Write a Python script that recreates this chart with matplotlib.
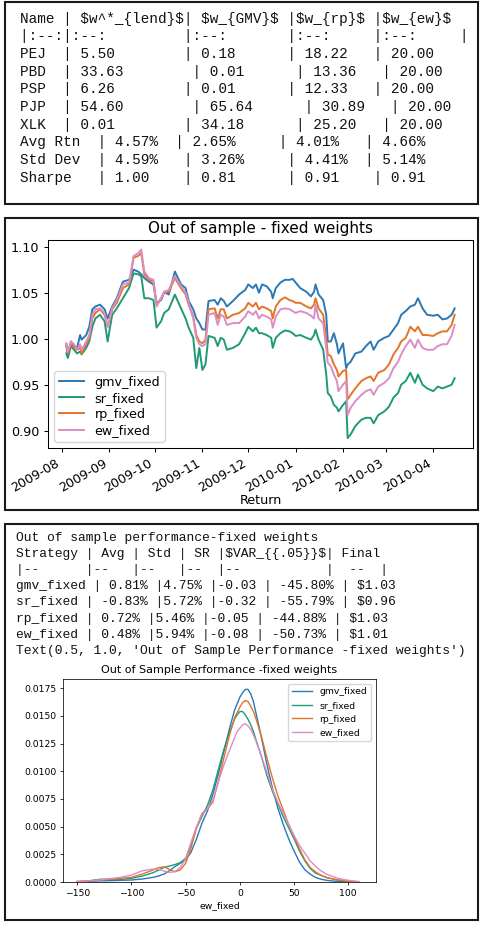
import matplotlib
matplotlib.use("Agg")
import matplotlib.pyplot as plt
import matplotlib.dates as mdates
from matplotlib.patches import Rectangle
from matplotlib.ticker import MultipleLocator, FormatStrFormatter
import pandas as pd

# ---- weights table (top panel) ----
ASSETS = ["PEJ", "PBD", "PSP", "PJP", "XLK"]
W_LEND = [5.50, 33.63, 6.26, 54.60, 0.01]
W_GMV = [0.18, 0.01, 0.01, 65.64, 34.18]
W_RP = [18.22, 13.36, 12.33, 30.89, 25.20]
W_EW = [20.00, 20.00, 20.00, 20.00, 20.00]
AVG_RTN = [4.57, 2.65, 4.01, 4.66]
STD_DEV = [4.59, 3.26, 4.41, 5.14]
SHARPE = [1.00, 0.81, 0.91, 0.91]

# ---- performance table (bottom panel) ----
STRATS = ["gmv_fixed", "sr_fixed", "rp_fixed", "ew_fixed"]
PERF_AVG = [0.81, -0.83, 0.72, 0.48]
PERF_STD = [4.75, 5.72, 5.46, 5.94]
PERF_SR = [-0.03, -0.32, -0.05, -0.08]
PERF_VAR = [-45.80, -55.79, -44.88, -50.73]
PERF_FINAL = [1.03, 0.96, 1.03, 1.01]

# ---- cumulative value, fixed weights ----
DATES = [
    "2009-08-04", "2009-08-05", "2009-08-07", "2009-08-09", "2009-08-11", "2009-08-13", "2009-08-14",
    "2009-08-17", "2009-08-19", "2009-08-21", "2009-08-23", "2009-08-26", "2009-08-29", "2009-08-31",
    "2009-09-03", "2009-09-06", "2009-09-10", "2009-09-14", "2009-09-17", "2009-09-20", "2009-09-22",
    "2009-09-24", "2009-09-27", "2009-09-30", "2009-10-02", "2009-10-05", "2009-10-07", "2009-10-10",
    "2009-10-14", "2009-10-18", "2009-10-21", "2009-10-23", "2009-10-26", "2009-10-28", "2009-10-30",
    "2009-11-01", "2009-11-03", "2009-11-05", "2009-11-09", "2009-11-11", "2009-11-13", "2009-11-15",
    "2009-11-17", "2009-11-21", "2009-11-25", "2009-11-29", "2009-12-01", "2009-12-04", "2009-12-06",
    "2009-12-08",
    "2009-12-10", "2009-12-13", "2009-12-16", "2009-12-17", "2009-12-19", "2009-12-22", "2009-12-25",
    "2009-12-28", "2009-12-30", "2010-01-01", "2010-01-04", "2010-01-08", "2010-01-11", "2010-01-13",
    "2010-01-14", "2010-01-16", "2010-01-19", "2010-01-21", "2010-01-22", "2010-01-24", "2010-01-26",
    "2010-01-28", "2010-01-29", "2010-02-01", "2010-02-03", "2010-02-04", "2010-02-06", "2010-02-09",
    "2010-02-13", "2010-02-16", "2010-02-19", "2010-02-21", "2010-02-24", "2010-02-28", "2010-03-03",
    "2010-03-06", "2010-03-09", "2010-03-11", "2010-03-14", "2010-03-17", "2010-03-20", "2010-03-22",
    "2010-03-25", "2010-03-28", "2010-04-01", "2010-04-04", "2010-04-07", "2010-04-10", "2010-04-13",
    "2010-04-15",
]
GMV_FIXED = [
    0.994, 0.981, 0.997, 0.992, 0.990, 1.004, 0.999, 1.004, 1.013, 1.032, 1.035, 1.037, 1.032, 1.022,
    1.035, 1.044, 1.062, 1.064, 1.075, 1.073, 1.070, 1.066, 1.062, 1.059, 1.039, 1.042, 1.051, 1.048,
    1.073, 1.059, 1.055, 1.041, 1.032, 1.022, 1.017, 1.010, 1.010, 1.041, 1.042, 1.037, 1.044, 1.041,
    1.035, 1.041, 1.048, 1.053, 1.059, 1.055, 1.059, 1.050,
    1.059, 1.057, 1.051, 1.044, 1.055, 1.061, 1.064, 1.064, 1.065, 1.061, 1.055, 1.051, 1.046, 1.051,
    1.059, 1.048, 1.042, 1.026, 0.997, 0.997, 1.006, 0.994, 0.984, 0.995, 0.968, 0.972, 0.975, 0.984,
    0.986, 0.992, 0.997, 0.988, 0.997, 1.001, 1.003, 1.010, 1.017, 1.026, 1.030, 1.035, 1.037, 1.044,
    1.033, 1.026, 1.025, 1.026, 1.021, 1.022, 1.026, 1.033,
]
SR_FIXED = [
    0.984, 0.979, 0.992, 0.988, 0.984, 0.986, 0.983, 0.990, 0.997, 1.013, 1.022, 1.026, 1.019, 0.997,
    1.026, 1.033, 1.044, 1.055, 1.071, 1.070, 1.068, 1.044, 1.044, 1.042, 1.012, 1.019, 1.028, 1.032,
    1.048, 1.033, 1.022, 1.012, 1.001, 0.968, 0.990, 0.966, 0.972, 1.003, 1.001, 0.992, 1.001, 0.999,
    0.988, 0.990, 0.994, 1.006, 1.013, 1.008, 1.012, 1.006,
    1.006, 1.004, 1.001, 0.990, 1.001, 1.006, 1.009, 1.008, 1.006, 1.003, 1.004, 1.001, 0.999, 1.004,
    1.010, 0.999, 0.988, 0.961, 0.941, 0.937, 0.928, 0.925, 0.921, 0.928, 0.932, 0.892, 0.896, 0.905,
    0.912, 0.914, 0.914, 0.908, 0.917, 0.921, 0.926, 0.936, 0.941, 0.950, 0.954, 0.963, 0.952, 0.961,
    0.950, 0.946, 0.943, 0.948, 0.946, 0.948, 0.950, 0.957,
]
RP_FIXED = [
    0.992, 0.984, 0.995, 0.990, 0.988, 0.990, 0.984, 0.994, 1.001, 1.022, 1.028, 1.032, 1.026, 1.013,
    1.032, 1.039, 1.055, 1.059, 1.088, 1.090, 1.093, 1.070, 1.064, 1.062, 1.037, 1.044, 1.050, 1.051,
    1.066, 1.055, 1.048, 1.037, 1.024, 1.004, 0.997, 0.995, 0.999, 1.032, 1.033, 1.022, 1.032, 1.032,
    1.022, 1.026, 1.028, 1.033, 1.039, 1.035, 1.039, 1.032,
    1.035, 1.033, 1.030, 1.022, 1.035, 1.042, 1.045, 1.042, 1.041, 1.039, 1.039, 1.035, 1.033, 1.037,
    1.044, 1.033, 1.026, 1.001, 0.983, 0.981, 0.972, 0.966, 0.959, 0.965, 0.966, 0.934, 0.939, 0.946,
    0.954, 0.957, 0.959, 0.954, 0.963, 0.966, 0.972, 0.983, 0.990, 0.997, 1.001, 1.013, 1.008, 1.013,
    1.004, 1.004, 1.003, 1.006, 1.008, 1.008, 1.015, 1.026,
]
EW_FIXED = [
    0.995, 0.986, 0.997, 0.994, 0.988, 0.994, 0.988, 0.997, 1.004, 1.026, 1.032, 1.033, 1.028, 1.013,
    1.033, 1.042, 1.059, 1.061, 1.090, 1.093, 1.097, 1.073, 1.066, 1.064, 1.035, 1.044, 1.051, 1.053,
    1.068, 1.057, 1.050, 1.039, 1.022, 1.001, 0.994, 0.992, 0.994, 1.026, 1.028, 1.015, 1.026, 1.024,
    1.015, 1.017, 1.017, 1.024, 1.030, 1.026, 1.030, 1.022,
    1.026, 1.024, 1.021, 1.012, 1.024, 1.032, 1.033, 1.032, 1.030, 1.028, 1.030, 1.028, 1.025, 1.022,
    1.037, 1.022, 1.017, 0.990, 0.974, 0.970, 0.961, 0.954, 0.943, 0.950, 0.954, 0.917, 0.925, 0.932,
    0.939, 0.943, 0.945, 0.939, 0.948, 0.952, 0.957, 0.968, 0.975, 0.983, 0.992, 0.999, 0.990, 0.999,
    0.990, 0.988, 0.988, 0.992, 0.994, 0.994, 1.003, 1.015,
]

# ---- return densities ----
KDE_X = [-150, -140, -130, -120, -110, -100, -90, -80,
         -75, -70, -65, -60, -55, -50, -45, -40, -35, -30, -25, -20, -15, -10, -5,
         -2.5, 0, 2.5, 5, 7.5, 10, 12.5, 15,
         20, 25, 30, 35, 40, 45, 50, 55, 60, 65, 70, 75, 80,
         90, 100, 110]
KDE_GMV = [0.00003, 0.00005, 0.0001, 0.00012, 0.00015, 0.00018, 0.00027, 0.00042,
           0.00054, 0.00072, 0.00102, 0.00138, 0.00169, 0.0020, 0.0027, 0.0039, 0.0053, 0.0064,
           0.0079, 0.0097, 0.0117, 0.0137, 0.0155,
           0.0161, 0.0167, 0.0171, 0.0174, 0.0174, 0.0170, 0.0163, 0.0152,
           0.0130, 0.0106, 0.0085, 0.0067, 0.0052, 0.0039, 0.0028, 0.0018, 0.0011, 0.0007, 0.0004,
           0.00025, 0.00015,
           0.00005, 0.00002, 0.0]
KDE_SR = [0.00002, 0.00008, 0.00024, 0.00027, 0.00024, 0.00033, 0.00054, 0.00084,
          0.00108, 0.00132, 0.00144, 0.00157, 0.00175, 0.00214, 0.0034, 0.0049, 0.0059, 0.0069,
          0.0083, 0.0101, 0.0119, 0.0134, 0.0147,
          0.0151, 0.0154, 0.0154, 0.0151, 0.0147, 0.0142, 0.0136, 0.0128,
          0.0113, 0.0096, 0.0082, 0.0071, 0.0059, 0.0049, 0.0039, 0.0028, 0.0019, 0.0012, 0.0008,
          0.0006, 0.0004,
          0.00018, 0.00006, 0.00001]
KDE_RP = [0.00005, 0.0001, 0.00018, 0.00024, 0.00033, 0.00042, 0.00072, 0.00108,
          0.0013, 0.00136, 0.00114, 0.00093, 0.00108, 0.0017, 0.0031, 0.0049, 0.0062, 0.0066,
          0.0072, 0.0090, 0.0111, 0.0131, 0.0148,
          0.0153, 0.0158, 0.0162, 0.0164, 0.0163, 0.0159, 0.0154, 0.0147,
          0.0131, 0.0112, 0.0094, 0.0078, 0.0065, 0.0052, 0.0041, 0.0030, 0.0020, 0.0013, 0.0009,
          0.0006, 0.0004,
          0.0002, 0.00007, 0.00001]
KDE_EW = [0.00004, 0.0001, 0.00018, 0.0003, 0.00042, 0.00063, 0.00102, 0.00117,
          0.00114, 0.00099, 0.00087, 0.00093, 0.00132, 0.0021, 0.0036, 0.0050, 0.0061, 0.0066,
          0.0074, 0.0090, 0.0105, 0.0118, 0.0130,
          0.0136, 0.0139, 0.0142, 0.0143, 0.0141, 0.0138, 0.0133, 0.0127,
          0.0113, 0.0099, 0.0084, 0.0072, 0.0062, 0.0052, 0.0042, 0.0033, 0.0026, 0.0019, 0.0014,
          0.0010, 0.0007,
          0.00035, 0.00015, 0.00004]

COLORS = ["#2a78b5", "#1f9a76", "#e3742a", "#dc8cc6"]
MONO = "Liberation Mono"

W, H = 482, 925
fig = plt.figure(figsize=(W / 100, H / 100), dpi=100)


def fx(px):
    return px / W


def fy(py):
    return 1 - py / H


# panel frames
for x0, y0, x1, y1 in [(5, 2, 478, 204), (5, 218, 478, 510), (5, 524, 478, 920)]:
    fig.add_artist(Rectangle((fx(x0), fy(y1)), fx(x1) - fx(x0), fy(y0) - fy(y1),
                             transform=fig.transFigure, fill=False, lw=1.5, ec="#1a1a1a"))

# top panel: printed markdown table
top_lines = ["Name | $w^*_{lend}$| $w_{GMV}$ |$w_{rp}$ |$w_{ew}$",
             "|:--:|:--:         |:--:       |:--:     |:--:     |"]
for i, name in enumerate(ASSETS):
    top_lines.append(f"{name}  | {W_LEND[i]:.2f}        | {W_GMV[i]:.2f}      "
                     f"| {W_RP[i]:.2f}   | {W_EW[i]:.2f}")
top_lines.append(f"Avg Rtn  | {AVG_RTN[0]:.2f}%  | {AVG_RTN[1]:.2f}%     "
                 f"| {AVG_RTN[2]:.2f}%   | {AVG_RTN[3]:.2f}%")
top_lines.append(f"Std Dev  | {STD_DEV[0]:.2f}%   | {STD_DEV[1]:.2f}%     "
                 f"| {STD_DEV[2]:.2f}%  | {STD_DEV[3]:.2f}%")
top_lines.append(f"Sharpe   | {SHARPE[0]:.2f}    | {SHARPE[1]:.2f}      "
                 f"| {SHARPE[2]:.2f}    | {SHARPE[3]:.2f}")

for i, line in enumerate(top_lines):
    yc = 18.0 + 17.7 * i
    fig.text(fx(20.5), fy(yc + 4.5), line, family=MONO, fontsize=10.35,
             va="baseline", ha="left", color="#111111", parse_math=False)

# bottom panel: printed performance table
bottom_lines = ["Out of sample performance-fixed weights",
                "Strategy | Avg | Std | SR |$VAR_{{.05}}$| Final",
                "|--      |--   |--   |--  |--           |  --  |"]
for i, s in enumerate(STRATS):
    bottom_lines.append(f"{s} | {PERF_AVG[i]:.2f}% |{PERF_STD[i]:.2f}% |{PERF_SR[i]:.2f} "
                        f"| {PERF_VAR[i]:.2f}% | ${PERF_FINAL[i]:.2f}")
bottom_lines.append("Text(0.5, 1.0, 'Out of Sample Performance -fixed weights')")

for i, line in enumerate(bottom_lines):
    yc = 536.5 + 16.2 * i
    fig.text(fx(16.5), fy(yc + 4.2), line, family=MONO, fontsize=9.4,
             va="baseline", ha="left", color="#111111", parse_math=False)

# middle panel: out of sample values
ax1 = fig.add_axes([fx(48), fy(448), fx(473) - fx(48), fy(240) - fy(448)])
dates = pd.to_datetime(DATES)
series = [GMV_FIXED, SR_FIXED, RP_FIXED, EW_FIXED]
for name, vals, c in zip(STRATS, series, COLORS):
    ax1.plot(dates, vals, color=c, lw=1.4, label=name)
ax1.set_xlim(pd.Timestamp("2009-07-23"), pd.Timestamp("2010-04-27"))
ax1.set_ylim(0.8812, 1.1073)
ax1.yaxis.set_major_locator(MultipleLocator(0.05))
ax1.yaxis.set_major_formatter(FormatStrFormatter("%.2f"))
ax1.xaxis.set_major_locator(mdates.MonthLocator())
ax1.xaxis.set_major_formatter(mdates.DateFormatter("%Y-%m"))
ax1.tick_params(labelsize=9.2, length=3.2, width=0.75, pad=3)
for lab in ax1.get_xticklabels():
    lab.set_rotation(30)
    lab.set_ha("right")
for sp in ax1.spines.values():
    sp.set_linewidth(0.75)
ax1.set_title("Out of sample - fixed weights", fontsize=11, pad=5)
ax1.set_xlabel("Return", fontsize=9.2, labelpad=0)
ax1.legend(loc="lower left", fontsize=9.2, labelspacing=0.25, borderpad=0.35)

# bottom panel: kde of returns
ax2 = fig.add_axes([fx(63.3), fy(882), fx(375.7) - fx(63.3), fy(679) - fy(882)])
for name, vals, c in zip(STRATS, [KDE_GMV, KDE_SR, KDE_RP, KDE_EW], COLORS):
    ax2.plot(KDE_X, vals, color=c, lw=1.0, label=name)
ax2.set_xlim(-162.9, 125.3)
ax2.set_ylim(0, 0.01834)
ax2.xaxis.set_major_locator(MultipleLocator(50))
ax2.yaxis.set_major_locator(MultipleLocator(0.0025))
ax2.yaxis.set_major_formatter(FormatStrFormatter("%.4f"))
ax2.tick_params(labelsize=6.7, length=2.4, width=0.55, pad=2.4)
for sp in ax2.spines.values():
    sp.set_linewidth(0.55)
ax2.set_title("Out of Sample Performance -fixed weights", fontsize=8, pad=4)
ax2.set_xlabel("ew_fixed", fontsize=6.7, labelpad=2.5)
ax2.legend(loc="upper right", fontsize=6.7, handlelength=2.2)

fig.savefig("out.png", dpi=100)
